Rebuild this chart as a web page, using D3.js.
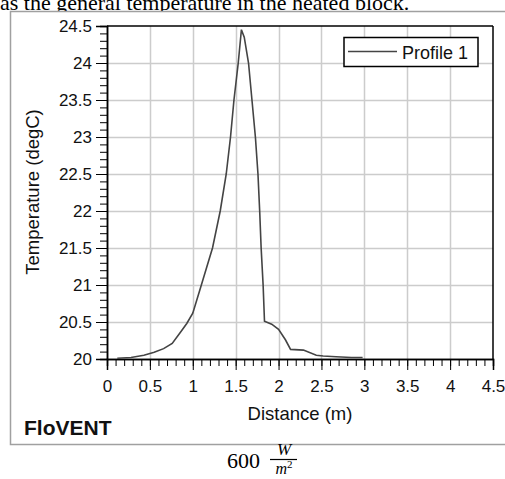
<!DOCTYPE html>
<html>
<head>
<meta charset="utf-8">
<script src="https://cdn.jsdelivr.net/npm/d3@7"></script>
<style>
  html, body { margin: 0; padding: 0; background: #fff; }
  svg { display: block; }
</style>
</head>
<body>
<script>
// Temperature profile along the heated block (FloVENT result, 600 W/m²)
const distance = [0.12, 0.28, 0.43, 0.55, 0.66, 0.76, 0.85, 0.93, 1.0, 1.1, 1.23, 1.32, 1.39, 1.44, 1.48, 1.53, 1.567, 1.6, 1.65, 1.69, 1.73, 1.76, 1.78, 1.797, 1.82, 1.836, 1.92, 2.0, 2.08, 2.14, 2.29, 2.44, 2.52, 2.67, 2.85, 2.98];
const temperature = [20.01, 20.02, 20.05, 20.09, 20.14, 20.21, 20.35, 20.48, 20.62, 21.0, 21.5, 22.0, 22.5, 23.0, 23.5, 24.0, 24.45, 24.35, 24.0, 23.5, 23.0, 22.5, 22.0, 21.5, 21.0, 20.51, 20.47, 20.4, 20.26, 20.13, 20.12, 20.05, 20.04, 20.03, 20.02, 20.02];
const xTicks = [0, 0.5, 1, 1.5, 2, 2.5, 3, 3.5, 4, 4.5];
const yTicks = [20, 20.5, 21, 21.5, 22, 22.5, 23, 23.5, 24, 24.5];
const seriesName = "Profile 1";

const W = 505, H = 479;
const svg = d3.select("body").append("svg").attr("width", W).attr("height", H);

const plot = { left: 107, right: 493, top: 26, bottom: 359 };
const x = d3.scaleLinear().domain([0, 4.5]).range([plot.left, plot.right]);
const y = d3.scaleLinear().domain([20, 24.5]).range([plot.bottom, plot.top]);

const sans = "'Liberation Sans', Arial, sans-serif";
const serif = "'Liberation Serif', 'Times New Roman', serif";
const ink = "#111";

// Surrounding document text (cut by the top edge)
svg.append("text").attr("x", 0).attr("y", 10)
  .attr("font-family", serif).attr("font-size", 22).attr("fill", "#000")
  .text("as the general temperature in the heated block.");

// Chart panel frame
svg.append("rect").attr("x", 10.5).attr("y", 11.5).attr("width", 510).attr("height", 433)
  .attr("fill", "#fff").attr("stroke", "#a0a0a0").attr("stroke-width", 1.5);

// Grid
const grid = svg.append("g").attr("stroke", "#cccccc").attr("stroke-width", 1.5);
grid.selectAll(".gx").data(xTicks.slice(1, -1)).join("line")
  .attr("x1", d => Math.round(x(d)) + 0.5).attr("x2", d => Math.round(x(d)) + 0.5)
  .attr("y1", plot.top).attr("y2", plot.bottom);
grid.selectAll(".gy").data(yTicks.slice(1, -1)).join("line")
  .attr("y1", d => Math.round(y(d)) + 0.5).attr("y2", d => Math.round(y(d)) + 0.5)
  .attr("x1", plot.left).attr("x2", plot.right);

// Axes with minor ticks every 0.1
const minorX = d3.range(0, 4.5001, 0.1).map(v => +v.toFixed(1));
const minorY = d3.range(20, 24.5001, 0.1).map(v => +v.toFixed(1));

const xMinor = svg.append("g").attr("transform", `translate(0,${plot.bottom})`)
  .call(d3.axisBottom(x).tickValues(minorX).tickSize(7).tickFormat(""));
const xMajor = svg.append("g").attr("transform", `translate(0,${plot.bottom})`)
  .call(d3.axisBottom(x).tickValues(xTicks).tickSize(11).tickPadding(10).tickFormat(d3.format("")));
const yMinor = svg.append("g").attr("transform", `translate(${plot.left},0)`)
  .call(d3.axisLeft(y).tickValues(minorY).tickSize(7).tickFormat(""));
const yMajor = svg.append("g").attr("transform", `translate(${plot.left},0)`)
  .call(d3.axisLeft(y).tickValues(yTicks).tickSize(11).tickPadding(4).tickFormat(d3.format("")));

[xMinor, xMajor, yMinor, yMajor].forEach(g => {
  g.selectAll(".domain").attr("stroke", "#000").attr("stroke-width", 1.5);
  g.selectAll(".tick line").attr("stroke", "#000");
  g.selectAll("text").attr("font-family", sans).attr("font-size", 17).attr("fill", ink);
});

// Top and right borders
svg.append("line").attr("x1", plot.left).attr("x2", plot.right).attr("y1", plot.top).attr("y2", plot.top)
  .attr("stroke", "#000").attr("stroke-width", 1.5);
svg.append("line").attr("x1", plot.right).attr("x2", plot.right).attr("y1", plot.top).attr("y2", plot.bottom)
  .attr("stroke", "#000").attr("stroke-width", 1.5);

// Profile line
const pts = distance.map((d, i) => [d, temperature[i]]);
svg.append("path").datum(pts)
  .attr("fill", "none").attr("stroke", "#444").attr("stroke-width", 1.6)
  .attr("d", d3.line().x(d => x(d[0])).y(d => y(d[1])));

// Legend
const lg = svg.append("g");
lg.append("rect").attr("x", 344).attr("y", 37.5).attr("width", 134).attr("height", 29)
  .attr("fill", "#fff").attr("stroke", "#000").attr("stroke-width", 1.5);
lg.append("line").attr("x1", 348).attr("x2", 397).attr("y1", 51.5).attr("y2", 51.5)
  .attr("stroke", "#444").attr("stroke-width", 1.5);
lg.append("text").attr("x", 402).attr("y", 58.5)
  .attr("font-family", sans).attr("font-size", 18).attr("fill", ink).text(seriesName);

// Axis titles
svg.append("text").attr("x", 300).attr("y", 420).attr("text-anchor", "middle")
  .attr("font-family", sans).attr("font-size", 18.5).attr("fill", ink).text("Distance (m)");
svg.append("text").attr("transform", "translate(39,192) rotate(-90)").attr("text-anchor", "middle")
  .attr("font-family", sans).attr("font-size", 18.5).attr("fill", ink).text("Temperature (degC)");

// Product label
svg.append("text").attr("x", 24).attr("y", 435)
  .attr("font-family", sans).attr("font-size", 21).attr("font-weight", "bold").attr("fill", ink).text("FloVENT");

// Caption: 600 W/m²
svg.append("text").attr("x", 227).attr("y", 468)
  .attr("font-family", serif).attr("font-size", 22).attr("fill", "#000").text("600");
svg.append("text").attr("x", 284).attr("y", 455).attr("text-anchor", "middle")
  .attr("font-family", serif).attr("font-style", "italic").attr("font-size", 17).attr("fill", "#000").text("W");
svg.append("line").attr("x1", 270).attr("x2", 297).attr("y1", 459.5).attr("y2", 459.5)
  .attr("stroke", "#000").attr("stroke-width", 1.2);
const den = svg.append("text").attr("x", 284).attr("y", 474).attr("text-anchor", "middle")
  .attr("font-family", serif).attr("font-size", 16).attr("fill", "#000");
den.append("tspan").attr("font-style", "italic").text("m");
den.append("tspan").attr("font-size", 11).attr("dy", -6).text("2");
</script>
</body>
</html>
